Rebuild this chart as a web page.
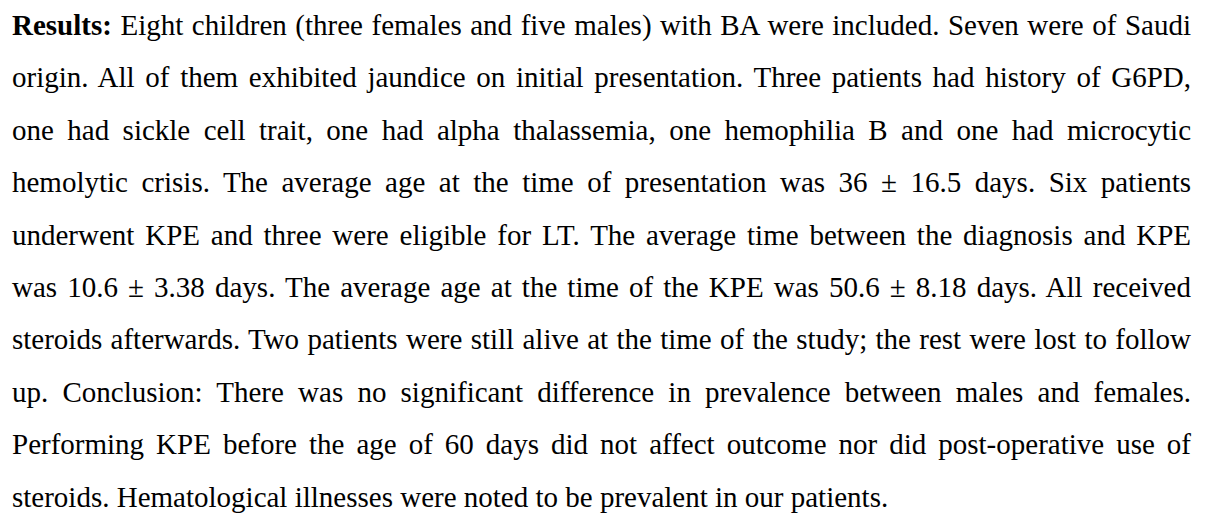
<!DOCTYPE html>
<html>
<head>
<meta charset="utf-8">
<script src="https://cdn.jsdelivr.net/npm/chart.js"></script>
<style>
    html, body {
        margin: 0;
        padding: 0;
        background: #ffffff;
    }
    #texto {
        position: absolute;
        left: 12px;
        top: -1px;
        width: 1179px;
        font-family: "Liberation Serif", "Times New Roman", serif;
        font-size: 29px;
        line-height: 52.4px;
        color: #000000;
    }
    .linha {
        white-space: nowrap;
        text-align: justify;
        text-align-last: justify;
    }
    .linha.ultima {
        text-align-last: left;
    }
</style>
</head>
<body>
<div id="texto"></div>
<script>
// linhas do texto, na ordem do original
const rotulo = 'Results:';
const linhas = [
    ' Eight children (three females and five males) with BA were included. Seven were of Saudi',
    'origin. All of them exhibited jaundice on initial presentation. Three patients had history of G6PD,',
    'one had sickle cell trait, one had alpha thalassemia, one hemophilia B and one had microcytic',
    'hemolytic crisis. The average age at the time of presentation was 36 ± 16.5 days. Six patients',
    'underwent KPE and three were eligible for LT. The average time between the diagnosis and KPE',
    'was 10.6 ± 3.38 days. The average age at the time of the KPE was 50.6 ± 8.18 days. All received',
    'steroids afterwards. Two patients were still alive at the time of the study; the rest were lost to follow',
    'up. Conclusion: There was no significant difference in prevalence between males and females.',
    'Performing KPE before the age of 60 days did not affect outcome nor did post-operative use of',
    'steroids. Hematological illnesses were noted to be prevalent in our patients.'
];

document.addEventListener('DOMContentLoaded', function() {
    montarTexto();
});

function montarTexto() {
    const caixa = document.getElementById('texto');
    linhas.forEach((linha, i) => {
        const div = document.createElement('div');
        div.className = 'linha' + (i === linhas.length - 1 ? ' ultima' : '');
        if (i === 0) {
            const b = document.createElement('b');
            b.textContent = rotulo;
            div.appendChild(b);
        }
        div.appendChild(document.createTextNode(linha));
        caixa.appendChild(div);
    });
}
</script>
</body>
</html>
